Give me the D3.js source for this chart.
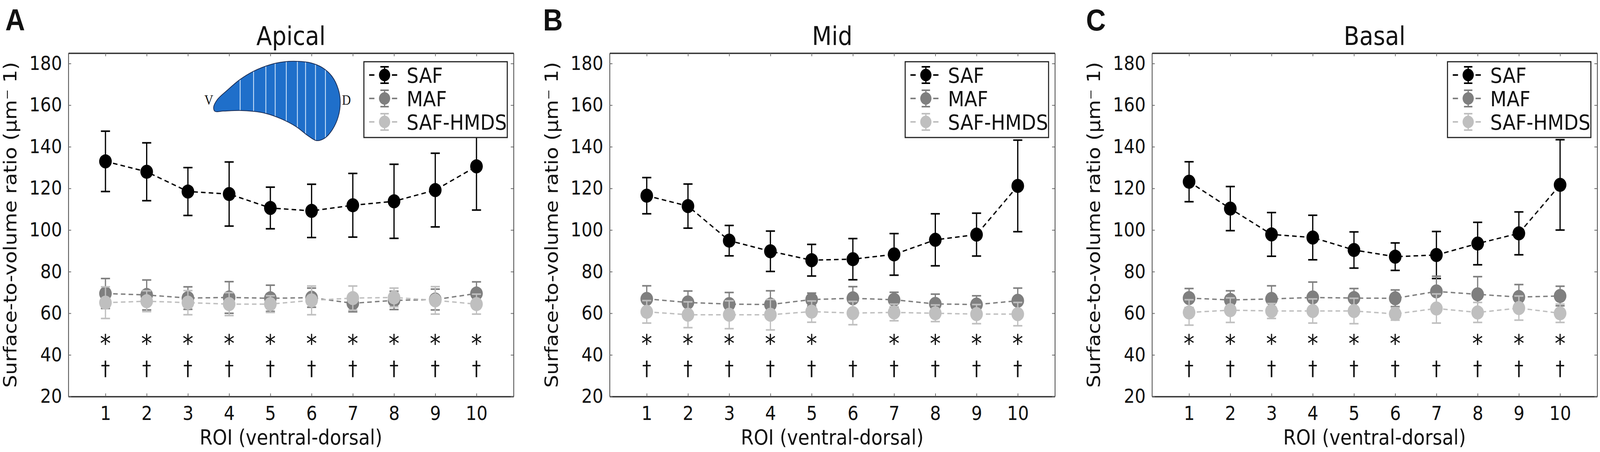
<!DOCTYPE html>
<html>
<head>
<meta charset="utf-8">
<script src="https://cdn.jsdelivr.net/npm/d3@7"></script>
<style>
  html, body { margin: 0; padding: 0; background: #fff; overflow: hidden; }
  svg { display: block; width: 100vw; height: 100vh; }
  text { font-family: "DejaVu Sans", Verdana, sans-serif; fill: #111; }
</style>
</head>
<body>
<svg id="chart"></svg>
<script>
// ---- data ----
var rois = [1, 2, 3, 4, 5, 6, 7, 8, 9, 10];
var panelNames = ["Apical", "Mid", "Basal"];
var panelLetters = ["A", "B", "C"];
var seriesNames = ["SAF", "MAF", "SAF-HMDS"];
var yTicks = [20, 40, 60, 80, 100, 120, 140, 160, 180];

var safApical = [133, 128, 118.5, 117.3, 110.6, 109.2, 111.9, 113.8, 119.2, 130.6];
var safApicalErr = [14.5, 13.9, 11.5, 15.4, 10, 12.8, 15.3, 17.8, 17.7, 21];
var mafApical = [69.5, 68.8, 67.3, 67.6, 67.2, 67.5, 64.8, 66.2, 66.6, 69.5];
var mafApicalErr = [7.2, 7.2, 5.4, 7.6, 6.3, 4.6, 4.1, 4.4, 5, 5.6];
var hmdsApical = [65.1, 65.8, 65.1, 64.4, 64.4, 66.2, 67.3, 67.6, 66.2, 64.4];
var hmdsApicalErr = [7.6, 5, 5.8, 5.5, 4, 6.9, 5.8, 4.5, 6.6, 4.8];

var safMid = [116.5, 111.5, 94.9, 89.8, 85.5, 86, 88.3, 95.3, 97.8, 121.2];
var safMidErr = [8.7, 10.6, 7.3, 9.7, 7.6, 9.9, 10, 12.5, 10.3, 22];
var mafMid = [66.9, 65.2, 64.4, 64.2, 66.6, 67.2, 66.5, 64.5, 64.2, 66];
var mafMidErr = [6.3, 5.5, 5.6, 6.6, 3.1, 5.6, 3.6, 4.7, 4.2, 6.1];
var hmdsMid = [60.7, 59.3, 59.3, 59.3, 60.8, 60.1, 60.4, 60, 59.6, 59.6];
var hmdsMidErr = [5.4, 6.2, 6.7, 7.3, 5.1, 5.6, 4, 4, 4.6, 5.6];

var safBasal = [123.2, 110.3, 97.9, 96.4, 90.4, 87.2, 88, 93.5, 98.4, 121.7];
var safBasalErr = [9.6, 10.6, 10.5, 10.7, 8.7, 6.6, 11.3, 10.2, 10.3, 21.7];
var mafBasal = [67.3, 66.4, 66.9, 67.6, 67.3, 67.2, 70.5, 69.1, 67.8, 68.3];
var mafBasalErr = [4.6, 4.4, 6.3, 7.4, 4.6, 4, 7.3, 8.5, 6, 4.7];
var hmdsBasal = [60.4, 61.5, 61.1, 61.1, 61.1, 59.7, 62.3, 60.4, 62.5, 60];
var hmdsBasalErr = [6.1, 5.9, 3.6, 5.8, 6.1, 3, 7, 4.8, 5.8, 4.4];

// ROIs marked with * and with a dagger
var starsApical = [1, 2, 3, 4, 5, 6, 7, 8, 9, 10];
var starsMid = [1, 2, 3, 4, 5, 7, 8, 9, 10];
var starsBasal = [1, 2, 3, 4, 5, 6, 8, 9, 10];
var daggersAll = [1, 2, 3, 4, 5, 6, 7, 8, 9, 10];
var starLevel = 48.2, daggerLevel = 33;

var panelMeans = [[safApical, mafApical, hmdsApical], [safMid, mafMid, hmdsMid], [safBasal, mafBasal, hmdsBasal]];
var panelErrs = [[safApicalErr, mafApicalErr, hmdsApicalErr], [safMidErr, mafMidErr, hmdsMidErr], [safBasalErr, mafBasalErr, hmdsBasalErr]];
var panelStars = [starsApical, starsMid, starsBasal];

// ---- layout ----
var W = 4564, H = 1157;
var panelLeft = [195, 1739, 3286];
var letterX = [15, 1549, 3098];
var plotW = 1270, plotTop = 136, plotBottom = 1015;
var colors = ["#000000", "#7f7f7f", "#bfbfbf"];

// drawing is laid out in 4564x1157 units and stretched to fill the window
var svg = d3.select("#chart").attr("viewBox", "0 0 " + W + " " + H)
  .attr("preserveAspectRatio", "none");
svg.append("rect").attr("width", W).attr("height", H).attr("fill", "#fff");

var x = d3.scaleLinear().domain([0.1, 10.9]).range([0, plotW]);
var y = d3.scaleLinear().domain([20, 185]).range([plotBottom, plotTop]);

function drawPanel(p) {
  var g = svg.append("g").attr("transform", "translate(" + panelLeft[p] + ",0)");

  // axes: ticks pointing inward on all four sides
  var bottom = g.append("g").attr("transform", "translate(0," + plotBottom + ")")
    .call(d3.axisBottom(x).tickValues(rois).tickSizeInner(-8).tickSizeOuter(0).tickPadding(25));
  var top = g.append("g").attr("transform", "translate(0," + plotTop + ")")
    .call(d3.axisTop(x).tickValues(rois).tickSizeInner(-8).tickSizeOuter(0).tickFormat(""));
  var left = g.append("g")
    .call(d3.axisLeft(y).tickValues(yTicks).tickSizeInner(-8).tickSizeOuter(0).tickPadding(18));
  var right = g.append("g").attr("transform", "translate(" + plotW + ",0)")
    .call(d3.axisRight(y).tickValues(yTicks).tickSizeInner(-8).tickSizeOuter(0).tickFormat(""));

  [bottom, top].forEach(function(a) { a.select(".domain").attr("stroke", "#333").attr("stroke-width", 3.5); });
  [left, right].forEach(function(a) { a.select(".domain").attr("stroke", "#333").attr("stroke-width", 2); });
  g.selectAll(".tick line").attr("stroke", "#666").attr("stroke-width", 2);
  g.selectAll(".tick text").style("font-size", "49px").attr("fill", "#111");

  // titles
  g.append("text").attr("x", plotW / 2).attr("y", 115).attr("text-anchor", "middle")
    .style("font-size", "65px").text(panelNames[p]);
  svg.append("text").attr("x", letterX[p]).attr("y", 78)
    .style("font-family", "'Liberation Sans', Arial, sans-serif").style("font-weight", "bold")
    .style("font-size", "78px").text(panelLetters[p]);
  g.append("text").attr("x", plotW / 2).attr("y", 1138).attr("text-anchor", "middle")
    .style("font-size", "53px").text("ROI (ventral-dorsal)");
  g.append("text").attr("transform", "translate(-148," + ((plotTop + plotBottom) / 2) + ") rotate(-90)")
    .attr("text-anchor", "middle").style("font-size", "52px")
    .text("Surface-to-volume ratio (\u03bcm\u207b 1)");

  if (p === 0) drawInset(g);

  // series
  var line = d3.line().x(function(d) { return x(d[0]); }).y(function(d) { return y(d[1]); });
  for (var s = 0; s < 3; s++) {
    var pts = rois.map(function(r, i) { return [r, panelMeans[p][s][i], panelErrs[p][s][i]]; });
    var sg = g.append("g");
    sg.append("path").datum(pts).attr("d", line).attr("fill", "none")
      .attr("stroke", colors[s]).attr("stroke-width", 3.5).attr("stroke-dasharray", "13,9");
    var eb = sg.selectAll(".eb").data(pts).enter().append("g");
    eb.append("line").attr("x1", function(d) { return x(d[0]); }).attr("x2", function(d) { return x(d[0]); })
      .attr("y1", function(d) { return y(d[1] - d[2]); }).attr("y2", function(d) { return y(d[1] + d[2]); })
      .attr("stroke", colors[s]).attr("stroke-width", 3.5);
    [-1, 1].forEach(function(sign) {
      eb.append("line").attr("x1", function(d) { return x(d[0]) - 13; }).attr("x2", function(d) { return x(d[0]) + 13; })
        .attr("y1", function(d) { return y(d[1] + sign * d[2]); }).attr("y2", function(d) { return y(d[1] + sign * d[2]); })
        .attr("stroke", colors[s]).attr("stroke-width", 4);
    });
    sg.selectAll(".pt").data(pts).enter().append("circle")
      .attr("cx", function(d) { return x(d[0]); }).attr("cy", function(d) { return y(d[1]); })
      .attr("r", 18).attr("fill", colors[s]);
  }

  // significance marks
  g.selectAll(".star").data(panelStars[p]).enter().append("text")
    .attr("x", function(d) { return x(d); }).attr("y", y(starLevel)).attr("dy", "0.59em")
    .attr("text-anchor", "middle").style("font-size", "62px").text("*");
  g.selectAll(".dagger").data(daggersAll).enter().append("text")
    .attr("x", function(d) { return x(d); }).attr("y", y(daggerLevel)).attr("dy", "0.3em")
    .attr("text-anchor", "middle").style("font-size", "52px").text("\u2020");

  // legend
  var lg = g.append("g").attr("transform", "translate(" + (plotW - 18 - 409) + "," + (plotTop + 22) + ")");
  lg.append("rect").attr("width", 409).attr("height", 194).attr("fill", "#fff")
    .attr("stroke", "#222").attr("stroke-width", 3);
  seriesNames.forEach(function(name, s) {
    var row = lg.append("g").attr("transform", "translate(0," + (34 + s * 60) + ")");
    row.append("line").attr("x1", 15).attr("x2", 30).attr("stroke", colors[s]).attr("stroke-width", 4);
    row.append("line").attr("x1", 80).attr("x2", 95).attr("stroke", colors[s]).attr("stroke-width", 4);
    row.append("line").attr("x1", 59).attr("x2", 59).attr("y1", -21).attr("y2", 21).attr("stroke", colors[s]).attr("stroke-width", 3.5);
    row.append("line").attr("x1", 47).attr("x2", 71).attr("y1", -21).attr("y2", -21).attr("stroke", colors[s]).attr("stroke-width", 4);
    row.append("line").attr("x1", 47).attr("x2", 71).attr("y1", 21).attr("y2", 21).attr("stroke", colors[s]).attr("stroke-width", 4);
    row.append("circle").attr("cx", 59).attr("r", 16).attr("fill", colors[s]);
    row.append("text").attr("x", 122).attr("y", 20).style("font-size", "54px").text(name);
  });
}

// ventricle cross-section sketch in panel A (illustration, not data)
function drawInset(g) {
  var outline = [[118, 390], [150, 330], [230, 262], [340, 178], [460, 112], [600, 62], [720, 40],
    [830, 36], [950, 48], [1050, 85], [1130, 150], [1185, 250], [1202, 350], [1185, 460], [1135, 560],
    [1070, 625], [1000, 645], [930, 610], [820, 535], [690, 475], [560, 435], [460, 420], [340, 413],
    [200, 418], [130, 420]];
  var stripes = [345, 460, 565, 645, 740, 835, 905, 990, 1075];
  var ig = g.append("g").attr("transform", "translate(" + (570 - 195) + ",145) scale(0.3333)");
  var shape = d3.line().curve(d3.curveCatmullRomClosed)(outline);
  ig.append("clipPath").attr("id", "insetClip").append("path").attr("d", shape);
  ig.append("path").attr("d", shape).attr("fill", "#1f6fca");
  ig.append("g").attr("clip-path", "url(#insetClip)").selectAll("line").data(stripes).enter().append("line")
    .attr("x1", function(d) { return d; }).attr("x2", function(d) { return d; })
    .attr("y1", 0).attr("y2", 700).attr("stroke", "#cfe4fa").attr("stroke-width", 7);
  ig.append("path").attr("d", shape).attr("fill", "none").attr("stroke", "#1b2d55").attr("stroke-width", 6);
  ig.append("text").attr("x", 77).attr("y", 370).attr("text-anchor", "middle")
    .style("font-family", "'Liberation Serif', serif").style("font-size", "105px").attr("fill", "#333").text("V");
  ig.append("text").attr("x", 1255).attr("y", 370).attr("text-anchor", "middle")
    .style("font-family", "'Liberation Serif', serif").style("font-size", "105px").attr("fill", "#333").text("D");
}

for (var p = 0; p < 3; p++) drawPanel(p);
</script>
</body>
</html>
